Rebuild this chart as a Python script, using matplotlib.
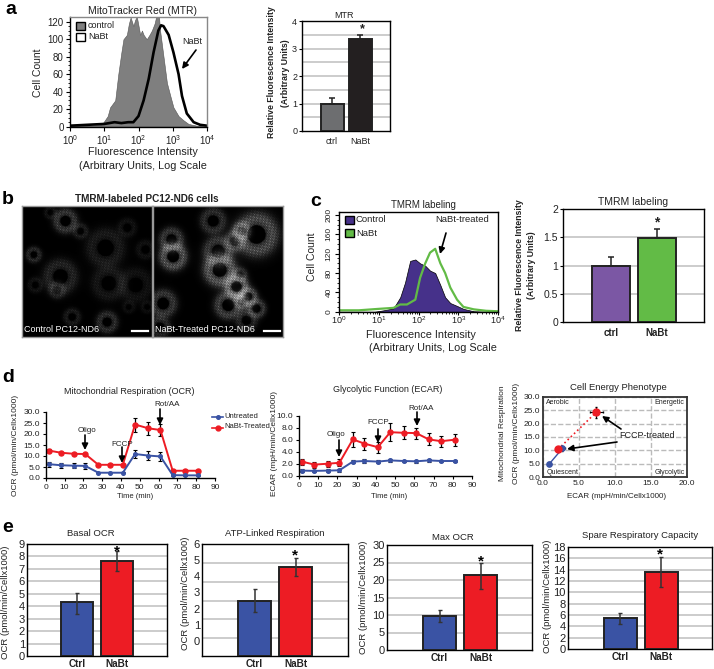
import numpy as np
import matplotlib
matplotlib.use('Agg')
import matplotlib.pyplot as plt
from matplotlib.patches import Rectangle

plt.rcParams['font.family'] = ['Liberation Sans', 'DejaVu Sans']
plt.rcParams['mathtext.default'] = 'regular'
plt.rcParams['axes.linewidth'] = 1.0

W, H = 714, 669
BLUE = '#3A53A4'
RED = '#ED1C24'
PURPLE = '#7B57A4'
GREEN = '#62BB46'
DARKPURPLE = '#46318A'

# panel a histogram (log10 intensity, counts)
mtr_ctrl_x = [0, 0.5, 0.9, 0.98, 1.1, 1.17, 1.32, 1.41, 1.5, 1.56, 1.66, 1.72, 1.77, 1.85, 1.9, 1.95, 2.05, 2.1,
              2.15, 2.24, 2.32, 2.39, 2.47, 2.54, 2.58, 2.63, 2.73, 2.83, 2.93, 3.02, 3.17, 3.32, 3.46, 3.7, 4]
mtr_ctrl_y = [1, 1, 2, 5, 12, 22, 30, 60, 85, 100, 105, 118, 125, 115, 122, 126, 105, 110,
              105, 100, 105, 110, 118, 130, 135, 110, 80, 50, 35, 22, 12, 7, 3, 1, 0]
mtr_nabt_x = [0, 0.5, 1.0, 1.3, 1.5, 1.7, 1.85, 2.0, 2.15, 2.3, 2.44, 2.58, 2.66, 2.73, 2.88, 3.02, 3.17, 3.27,
              3.41, 3.61, 3.8, 4]
mtr_nabt_y = [1, 2, 3, 5, 4, 5, 5, 12, 30, 55, 85, 110, 116, 115, 105, 85, 60, 35, 15, 5, 2, 1]
mtr_bars = [1.0, 3.35]
mtr_err = [0.2, 0.15]

# panel c histogram
tmrm_ctrl_x = [0, 0.9, 1.12, 1.37, 1.54, 1.66, 1.79, 1.92, 2.04, 2.17, 2.29, 2.42, 2.55, 2.67, 2.8, 2.97, 3.13, 3.39, 3.7, 4]
tmrm_ctrl_y = [0, 0, 3, 7, 30, 60, 105, 108, 100, 95, 85, 80, 55, 30, 18, 12, 6, 1, 0, 0]
tmrm_nabt_x = [0, 0.5, 1.0, 1.37, 1.54, 1.71, 1.92, 2.04, 2.17, 2.29, 2.42, 2.55, 2.67, 2.8, 2.97, 3.13, 3.39, 3.7, 4]
tmrm_nabt_y = [3, 3, 6, 8, 15, 15, 25, 70, 100, 122, 130, 100, 80, 50, 25, 10, 5, 2, 1]
tmrm_bars = [1.0, 1.48]
tmrm_err = [0.15, 0.17]

cells_ctrl = [(195, 155, 28, .6), (240, 185, 18, .3), (100, 255, 18, .45), (315, 235, 45, .3), (380, 175, 22, .2),
              (435, 240, 22, .2), (180, 320, 40, .4), (170, 360, 20, .3), (105, 345, 18, .2), (325, 340, 40, .25),
              (405, 345, 40, .2), (215, 440, 20, .3), (320, 455, 25, .5), (150, 130, 15, .2), (385, 410, 15, .15),
              (440, 410, 15, .15)]
cells_nabt = [(640, 155, 30, .5), (770, 195, 50, .85), (725, 185, 22, .6), (705, 215, 25, .5), (515, 210, 28, .6),
              (520, 260, 32, .9), (655, 245, 35, .6), (660, 300, 38, .95), (710, 350, 28, 1), (745, 380, 22, .8),
              (685, 405, 32, .7), (770, 415, 22, .6), (725, 395, 18, .5), (490, 400, 32, .6), (740, 450, 25, .4),
              (480, 470, 25, .4), (720, 315, 18, .4)]

# panel d
time_min = [1.5, 8, 15, 21, 28, 34, 41, 47.5, 54.5, 61, 67.5, 74, 81]
ocr_untreated = [6.3, 5.8, 5.6, 5.5, 2.4, 2.4, 2.4, 10.9, 10.2, 9.8, 1.3, 1.2, 1.2]
ocr_untreated_err = [1.2, 1.2, 1.2, 1.2, .3, .3, .3, 2, 2, 2, .3, .3, .3]
ocr_nabt = [12.5, 11.5, 11, 10.9, 6, 6, 6, 24.3, 22.6, 21.8, 3.3, 3.3, 3.3]
ocr_nabt_err = [.8, .5, .5, .5, .5, .5, .5, 3.2, 2.9, 2.7, .5, .5, .5]
ecar_untreated = [.9, .85, .9, .95, 2.4, 2.5, 2.4, 2.6, 2.5, 2.45, 2.6, 2.5, 2.5]
ecar_untreated_err = [.2, .2, .2, .2, .3, .3, .2, .3, .2, .3, .2, .2, .2]
ecar_nabt = [2.4, 1.9, 2.05, 2.2, 6.1, 5.4, 4.8, 7.3, 7.2, 7.15, 6.1, 5.8, 6.05]
ecar_nabt_err = [.5, .5, .5, .6, 1.2, 1, .9, 1.5, 1.1, .9, 1, .9, 1]
pheno_blue_x = [0.9, 2.7]
pheno_blue_y = [5.0, 10.7]
pheno_red_x = [2.1, 7.4]
pheno_red_y = [10.4, 24.3]

# panel e
cats = ['Ctrl', 'NaBt']
basal = [4.3, 7.6]
basal_lo = [3.4, 6.8]
basal_hi = [5.1, 8.4]
atp = [2.49, 4.58]
atp_lo = [1.77, 4.02]
atp_hi = [3.2, 5.11]
atp_grid = [0.16, 1.34, 2.49, 3.67, 4.85]
maxocr = [9.8, 21.3]
maxocr_lo = [8, 17.5]
maxocr_hi = [11.4, 24.9]
spare = [5.5, 13.6]
spare_lo = [4.5, 10.9]
spare_hi = [6.4, 16.2]

fig = plt.figure(figsize=(W / 100, H / 100), dpi=100)


def add_ax(l, t, r, b):
    return fig.add_axes([l / W, 1 - b / H, (r - l) / W, (b - t) / H])


# overlay in pixel coordinates for labels and arrows
ov = fig.add_axes([0, 0, 1, 1], zorder=20)
ov.set_xlim(0, W)
ov.set_ylim(H, 0)
ov.axis('off')
ov.patch.set_alpha(0)


def txt(x, y, s, size=7, ha='center', **kw):
    ov.text(x, y, s, fontsize=size, ha=ha, va='center', color=kw.pop('color', '#222222'), **kw)


def arrow(x0, y0, x1, y1, lw=1.2, ms=9):
    ov.annotate('', xy=(x1, y1), xytext=(x0, y0),
                arrowprops=dict(arrowstyle='-|>', color='k', lw=lw, mutation_scale=ms, shrinkA=0, shrinkB=0))


def bar_panel(box, vals, c0, c1, w, colors, ylim, yticks, grid, lo=None, hi=None, up=None,
              labels=None, tick_size=8, label_size=8, edge='#222222', bold=True, ptick=2, xpad=4):
    l, t, r, b = box
    ax = add_ax(l, t, r, b)
    a = c1 - c0
    ax.set_xlim((l - c0) / a, (r - c0) / a)
    ax.set_ylim(*ylim)
    ax.bar([0, 1], np.array(vals) - ylim[0], bottom=ylim[0], width=w / a, color=colors, edgecolor=edge, lw=1.4, zorder=3)
    for g in grid:
        ax.axhline(g, color='#C4C4C4', lw=1.2, zorder=1)
    if up is not None:
        ax.errorbar([0, 1], vals, yerr=[[0, 0], up], fmt='none', ecolor='#222222', elinewidth=1.1, capsize=2.5, capthick=1.1, zorder=4)
    else:
        ax.errorbar([0, 1], vals, yerr=[np.array(vals) - np.array(lo), np.array(hi) - np.array(vals)], fmt='none',
                    ecolor='#333333', elinewidth=1.1, capsize=1.5, capthick=1.0, zorder=4)
    ax.set_yticks(yticks)
    ax.set_xticks([0, 1])
    ax.set_xticklabels(labels, fontsize=label_size, fontweight='bold' if bold else 'normal', color='#222222')
    ax.tick_params(axis='x', length=0, pad=xpad)
    ax.tick_params(axis='y', length=ptick, labelsize=tick_size, pad=1.5, labelcolor='#222222')
    return ax


def flow_axes(box, ymax, yticks, xpad=1.5):
    ax = add_ax(*box)
    ax.set_xscale('log')
    ax.set_xlim(1, 1e4)
    ax.set_ylim(-0.5, ymax)
    ax.set_xticks([1, 10, 100, 1000, 10000])
    ax.set_xticklabels(['$10^{%d}$' % i for i in range(5)])
    ax.set_yticks(yticks)
    ax.tick_params(axis='both', which='major', length=3, labelsize=7, pad=1.5, labelcolor='#222222')
    ax.tick_params(axis='x', which='major', pad=xpad)
    ax.tick_params(axis='x', which='minor', length=1.5)
    return ax


# ---- a ----
ax = flow_axes((70, 17, 207, 127), 125.5, [0, 20, 40, 60, 80, 100, 120])
ax.fill_between(10 ** np.array(mtr_ctrl_x), mtr_ctrl_y, color='#7F7F7F', edgecolor='#555555', lw=0.4)
ax.plot(10 ** np.array(mtr_nabt_x), mtr_nabt_y, color='k', lw=1.9)
ax.set_yticks(np.arange(0, 121, 5), minor=True)
ax.tick_params(axis='y', which='minor', length=1.5)
for s in ['top', 'right']:
    ax.spines[s].set_color('#888888')
txt(142, 11, 'MitoTracker Red (MTR)', 7.5)
txt(38, 73, 'Cell Count', 7.5, rotation=90)
txt(143, 152, 'Fluorescence Intensity', 7.8)
txt(143, 166, '(Arbitrary Units, Log Scale', 7.8)
ov.add_patch(Rectangle((76, 22), 9, 7.5, fc='#7F7F7F', ec='k', lw=1))
ov.add_patch(Rectangle((76, 33), 9, 7.5, fc='white', ec='k', lw=1))
txt(88, 25.5, 'control', 6.5, ha='left')
txt(88, 36.5, 'NaBt', 6.5, ha='left')
txt(192, 42, 'NaBt', 6.5)
arrow(196, 50, 182, 69)

bar_panel((302, 21, 390, 131), mtr_bars, 332, 360, 23, ['#6D6E70', '#231F20'], (0, 4), [0, 1, 2, 3, 4],
          np.arange(0.5, 4, 0.5), up=mtr_err, labels=['ctrl', 'NaBt'], tick_size=6.5, label_size=6.5, bold=False)
txt(344, 15, 'MTR', 6.5)
txt(362, 29, '*', 9, fontweight='bold')
txt(272, 72, 'Relative Fluorescence Intensity', 6.3, rotation=90, fontweight='bold')
txt(285, 73, '(Arbitrary Units)', 6.3, rotation=90, fontweight='bold')
txt(5, 9, 'a', 14, ha='left', fontweight='bold', color='k')

# ---- b ----
txt(147, 199, 'TMRM-labeled PC12-ND6 cells', 7.2, fontweight='bold')
txt(8, 200, 'b', 14, ha='center', fontweight='bold', color='k')


def render_cells(cells, x0, x1, y0, y1):
    X, Y = np.meshgrid(np.arange(x0, x1), np.arange(y0, y1))
    img = np.zeros_like(X, dtype=float)
    # fine granular texture for the mitochondria
    speck = (0.5 + 0.25 * np.sin(1.3 * X + 0.7 * Y) + 0.25 * np.sin(0.83 * Y - 1.1 * X)) ** 3
    speck *= (0.6 + 0.4 * np.sin(0.37 * X - 0.29 * Y) * np.sin(0.23 * X + 0.41 * Y))
    for cx, cy, r, br in cells:
        d = np.hypot(X - cx, Y - cy)
        ring = np.exp(-((d - r * 0.95) / (r * 0.42)) ** 2) * (d > r * 0.55)
        halo = np.exp(-(d / (r * 1.7)) ** 4) * (d > r * 0.55)
        img += br * (0.75 * ring * (0.15 + 1.6 * speck) + 0.07 * halo)
    return np.clip(img, 0, 1)


for box, cells, rng in [((22, 206, 152, 337), cells_ctrl, (65, 455, 108, 500)),
                        ((153, 206, 283, 337), cells_nabt, (460, 850, 108, 500))]:
    ax = add_ax(*box)
    ax.imshow(render_cells(cells, *rng), cmap='gray', vmin=0, vmax=1, aspect='auto', interpolation='antialiased')
    ax.set_xticks([])
    ax.set_yticks([])
    for s in ax.spines.values():
        s.set_color('#999999')
txt(24, 330, 'Control PC12-ND6', 6.5, ha='left', color='white')
txt(155, 330, 'NaBt-Treated PC12-ND6', 6.5, ha='left', color='white')
ov.plot([132, 148], [331, 331], color='white', lw=1.6)
ov.plot([264, 280], [331, 331], color='white', lw=1.6)

# ---- c ----
ax = flow_axes((339, 212, 498, 312), 206, [0, 40, 80, 120, 160, 200], xpad=0)
ax.fill_between(10 ** np.array(tmrm_ctrl_x), tmrm_ctrl_y, color=DARKPURPLE, edgecolor='k', lw=0.5)
ax.plot(10 ** np.array(tmrm_nabt_x), tmrm_nabt_y, color=GREEN, lw=1.6)
ax.tick_params(axis='y', labelrotation=90, labelsize=6)
ax.tick_params(axis='x', which='major', length=2, labelsize=6.5)
ax.set_yticks(np.arange(0, 201, 10), minor=True)
ax.tick_params(axis='y', which='minor', length=1.5)
for lab in ax.get_yticklabels():
    lab.set_va('center')
txt(423, 205, 'TMRM labeling', 7)
txt(312, 257, 'Cell Count', 7.5, rotation=90)
txt(421, 335, 'Fluorescence Intensity', 7.8)
txt(433, 348, '(Arbitrary Units, Log Scale', 7.8)
ov.add_patch(Rectangle((345, 216), 8.5, 8, fc=DARKPURPLE, ec='k', lw=1))
ov.add_patch(Rectangle((345, 229), 8.5, 8, fc=GREEN, ec='k', lw=1))
txt(356, 220, 'Control', 6.8, ha='left')
txt(356, 233, 'NaBt', 6.8, ha='left')
txt(462, 220, 'NaBt-treated', 6.8)
arrow(446, 233, 440, 254)
txt(316, 201, 'c', 14, fontweight='bold', color='k')

ax = bar_panel((563, 209, 704, 322), tmrm_bars, 611, 657, 38, [PURPLE, GREEN], (0, 2), [0, 0.5, 1, 1.5, 2],
               [0.5, 1, 1.5], up=tmrm_err, labels=['ctrl', 'NaBt'], tick_size=7.5, label_size=7)
ax.set_yticklabels(['0', '0.5', '1', '1.5', '2'])
txt(633, 202, 'TMRM labeling', 7.5)
txt(657, 222, '*', 10, fontweight='bold')
txt(519, 265, 'Relative Fluorescence Intensity', 6.3, rotation=90, fontweight='bold')
txt(532, 265, '(Arbitrary Units)', 6.3, rotation=90, fontweight='bold')

# ---- d ----
txt(8, 378, 'd', 14, fontweight='bold', color='k')


def seahorse(box, ymax, yticks, unt, unt_err, nabt, nabt_err):
    ax = add_ax(*box)
    ax.set_xlim(0, 90)
    ax.set_ylim(0, ymax)
    ax.errorbar(time_min, nabt, yerr=nabt_err, color=RED, lw=1.4, marker='o', ms=3.6, ecolor='k', elinewidth=0.9, capsize=1.5, capthick=0.8, clip_on=False)
    ax.errorbar(time_min, unt, yerr=unt_err, color=BLUE, lw=1.4, marker='o', ms=2.6, ecolor='k', elinewidth=0.9, capsize=1.5, capthick=0.8, clip_on=False)
    ax.set_xticks(np.arange(0, 91, 10))
    ax.set_yticks(yticks)
    ax.set_yticklabels(['%.1f' % v for v in yticks])
    ax.tick_params(labelsize=6, length=2.5, pad=1.5, labelcolor='#222222')
    for s in ['top', 'right']:
        ax.spines[s].set_visible(False)
    return ax


seahorse((45.7, 412, 215, 478), 30, np.arange(0, 31, 5.0), ocr_untreated, ocr_untreated_err, ocr_nabt, ocr_nabt_err)
txt(129, 391, 'Mitochondrial Respiration (OCR)', 6.5)
txt(135, 497, 'Time (min)', 5.5)
txt(16, 445, 'OCR (pmol/min/Cellx1000)', 6, rotation=90)
txt(87, 431, 'Oligo', 5.8)
arrow(85, 435, 85, 450)
txt(122, 444, 'FCCP', 5.8)
arrow(122, 447, 122, 463)
txt(167, 405, 'Rot/AA', 5.8)
arrow(160, 409, 160, 425)
ov.plot([212, 223], [417, 417], color=BLUE, lw=1.2)
ov.plot([212, 223], [428, 428], color=RED, lw=1.2)
ov.plot([217.5], [417], color=BLUE, marker='o', ms=2.6)
ov.plot([217.5], [428], color=RED, marker='o', ms=3.5)
txt(224, 416, 'Untreated', 5.5, ha='left')
txt(224, 427, 'NaBt-Treated', 5.5, ha='left')

seahorse((299, 416, 472, 476), 10, np.arange(0, 11, 2.0), ecar_untreated, ecar_untreated_err, ecar_nabt, ecar_nabt_err)
txt(388, 390, 'Glycolytic Function (ECAR)', 6.5)
txt(389, 497, 'Time (min)', 5.5)
txt(274, 443, 'ECAR (mpH/min/Cellx1000)', 6, rotation=90)
txt(336, 435, 'Oligo', 5.8)
arrow(339, 440, 339, 457)
txt(378, 423, 'FCCP', 5.8)
arrow(378, 429, 378, 443)
txt(421, 408, 'Rot/AA', 5.8)
arrow(417, 412, 417, 426)

ax = add_ax(543, 397, 687, 477)
ax.set_xlim(0, 20)
ax.set_ylim(0, 30)
ax.grid(True, color='#BBBBBB', ls='--', lw=1.0)
ax.set_axisbelow(True)
ax.set_xticks([0, 5, 10, 15, 20])
ax.set_yticks(np.arange(0, 31, 5.0))
ax.set_xticklabels(['0.0', '5.0', '10.0', '15.0', '20.0'])
ax.set_yticklabels(['%.1f' % v for v in np.arange(0, 31, 5.0)])
ax.tick_params(labelsize=6, length=0, pad=2, labelcolor='#222222')
for s in ax.spines.values():
    s.set_linewidth(1.3)
    s.set_color('#333333')
ax.plot(pheno_blue_x, pheno_blue_y, color=BLUE, lw=1.0)
ax.plot(pheno_red_x, pheno_red_y, color=RED, lw=1.2, ls=':')
ax.errorbar(pheno_blue_x, pheno_blue_y, xerr=[.2, .3], yerr=[.6, 1.0], fmt='o', color=BLUE, ms=3.8, ecolor='k', elinewidth=0.8, capsize=1)
ax.errorbar(pheno_red_x, pheno_red_y, xerr=[.3, 0.9], yerr=[.6, 2.0], fmt='o', color=RED, ms=5, ecolor='k', elinewidth=0.8, capsize=1)
txt(618, 387, 'Cell Energy Phenotype', 6.8)
txt(617, 497, 'ECAR (mpH/min/Cellx1000)', 5.8)
txt(503, 433, 'Mitochondrial Respiration', 6, rotation=90)
txt(516, 433, 'OCR (pmol/min/Cellx1000)', 6, rotation=90)
txt(546, 402, 'Aerobic', 5, ha='left')
txt(684, 402, 'Energetic', 5, ha='right')
txt(547, 472, 'Quiescent', 5, ha='left')
txt(685, 472, 'Glycolytic', 5, ha='right')
txt(647, 436, 'FCCP-treated', 6.5)
arrow(621, 429, 602, 416)
arrow(617, 442, 567, 449)

# ---- e ----
txt(8, 527, 'e', 14, fontweight='bold', color='k')
ebars = [BLUE, RED]
bar_panel((27, 544, 167, 656), basal, 77, 117, 32, ebars, (0, 9), np.arange(0, 10), np.arange(1, 9),
          lo=basal_lo, hi=basal_hi, labels=cats, tick_size=8, label_size=7.2, ptick=0, xpad=2)
txt(91, 534, 'Basal OCR', 6.8)
txt(117, 551, '*', 11, fontweight='bold', color='k')
txt(6, 602, 'OCR (pmol/min/Cellx1000)', 6.8, rotation=90)

bar_panel((202, 544, 348, 656), atp, 254.5, 295.5, 33, ebars, (-0.93, 6), np.arange(0, 7), atp_grid,
          lo=atp_lo, hi=atp_hi, labels=cats, tick_size=8, label_size=7.2, ptick=0, xpad=2)
txt(275, 534, 'ATP-Linked Respiration', 6.8)
txt(295, 555, '*', 11, fontweight='bold', color='k')
txt(185, 593, 'OCR (pmol/min/Cellx1000)', 6.8, rotation=90)

bar_panel((387, 545, 532, 650), maxocr, 439.5, 480.5, 33, ebars, (0, 30), np.arange(0, 31, 5), np.arange(5, 30, 5),
          lo=maxocr_lo, hi=maxocr_hi, labels=cats, tick_size=8, label_size=7.2, ptick=0, xpad=2)
txt(453, 537, 'Max OCR', 6.8)
txt(481, 561, '*', 11, fontweight='bold', color='k')
txt(363, 597, 'OCR (pmol/min/Cellx1000)', 6.8, rotation=90)

ax = bar_panel((568, 547, 712, 649), spare, 620, 661, 33, ebars, (0, 18), np.arange(0, 19, 2), np.arange(2, 18, 2),
               lo=spare_lo, hi=spare_hi, labels=cats, tick_size=8, label_size=7.2, ptick=0, xpad=2)
txt(640, 535, 'Spare Respiratory Capacity', 6.8)
txt(660, 554, '*', 11, fontweight='bold', color='k')
txt(547, 596, 'OCR (pmol/min/Cellx1000)', 6.8, rotation=90)

fig.savefig('out.png', dpi=100)
